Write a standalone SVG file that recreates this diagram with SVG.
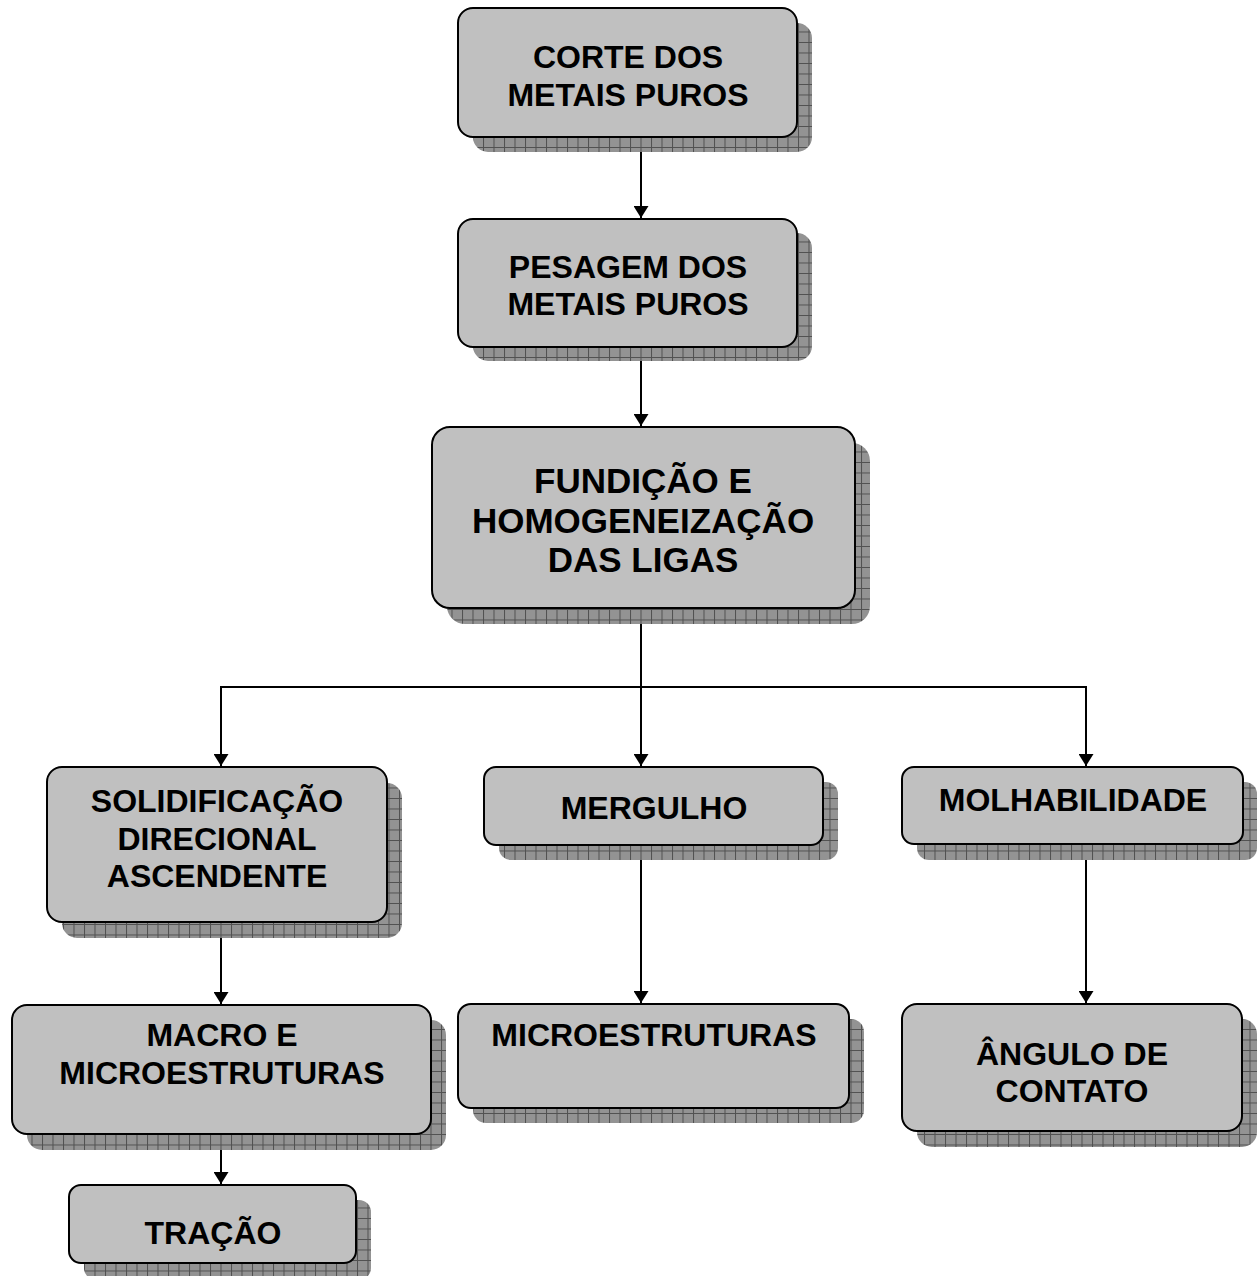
<svg xmlns="http://www.w3.org/2000/svg" width="1257" height="1276" viewBox="0 0 1257 1276">
<defs>
<pattern id="grid" width="10.5" height="10.5" patternUnits="userSpaceOnUse">
<rect width="10.5" height="10.5" fill="#939393"/>
<path d="M0 0.5H10.5M0.5 0V10.5" stroke="#505050" stroke-width="1" fill="none"/>
</pattern>
<marker id="arr" viewBox="0 0 12 15" refX="12" refY="7.5" markerWidth="12" markerHeight="15" markerUnits="userSpaceOnUse" orient="auto">
<path d="M0 0L12 7.5L0 15Z" fill="#000"/>
</marker>
</defs>
<style>
.sh{fill:url(#grid)}
.bx{fill:#c0c0c0;stroke:#000;stroke-width:2}
.t{font-family:"Liberation Sans",Arial,sans-serif;font-weight:bold;font-size:32px;text-anchor:middle;fill:#000}
.big{font-size:35px}
.c{stroke:#000;stroke-width:2;fill:none}
</style>
<g id="connectors">
<path class="c" d="M641 137V218" marker-end="url(#arr)"/>
<path class="c" d="M641 347V426" marker-end="url(#arr)"/>
<path class="c" d="M641 608V766" marker-end="url(#arr)"/>
<path class="c" d="M221 766V687H1086V766" marker-end="url(#arr)"/>
<path class="c" d="M221 687V766" marker-end="url(#arr)"/>
<path class="c" d="M221 922V1004" marker-end="url(#arr)"/>
<path class="c" d="M641 845V1003" marker-end="url(#arr)"/>
<path class="c" d="M1086 844V1003" marker-end="url(#arr)"/>
<path class="c" d="M221 1134V1184" marker-end="url(#arr)"/>
</g>
<g id="n1">
<rect class="sh" x="473" y="23" width="339" height="129" rx="15"/>
<rect class="bx" x="458" y="8" width="339" height="129" rx="15"/>
<text class="t" x="628" y="68">CORTE DOS</text>
<text class="t" x="628" y="106">METAIS PUROS</text>
</g>
<g id="n2">
<rect class="sh" x="473" y="233" width="339" height="128" rx="15"/>
<rect class="bx" x="458" y="219" width="339" height="128" rx="15"/>
<text class="t" x="628" y="278">PESAGEM DOS</text>
<text class="t" x="628" y="315">METAIS PUROS</text>
</g>
<g id="n3">
<rect class="sh" x="447" y="443" width="423" height="181" rx="18"/>
<rect class="bx" x="432" y="427" width="423" height="181" rx="18"/>
<text class="t big" x="643" y="493">FUNDIÇÃO E</text>
<text class="t big" x="643" y="533">HOMOGENEIZAÇÃO</text>
<text class="t big" x="643" y="572">DAS LIGAS</text>
</g>
<g id="n4">
<rect class="sh" x="62" y="783" width="340" height="155" rx="15"/>
<rect class="bx" x="47" y="767" width="340" height="155" rx="15"/>
<text class="t" x="217" y="812">SOLIDIFICAÇÃO</text>
<text class="t" x="217" y="850">DIRECIONAL</text>
<text class="t" x="217" y="887">ASCENDENTE</text>
</g>
<g id="n5">
<rect class="sh" x="499" y="782" width="339" height="78" rx="12"/>
<rect class="bx" x="484" y="767" width="339" height="78" rx="12"/>
<text class="t" x="654" y="819">MERGULHO</text>
</g>
<g id="n6">
<rect class="sh" x="917" y="782" width="340" height="78" rx="12"/>
<rect class="bx" x="902" y="767" width="341" height="77" rx="12"/>
<text class="t" x="1073" y="811">MOLHABILIDADE</text>
</g>
<g id="n7">
<rect class="sh" x="27" y="1020" width="419" height="130" rx="15"/>
<rect class="bx" x="12" y="1005" width="419" height="129" rx="15"/>
<text class="t" x="222" y="1046">MACRO E</text>
<text class="t" x="222" y="1084">MICROESTRUTURAS</text>
</g>
<g id="n8">
<rect class="sh" x="473" y="1019" width="391" height="104" rx="13"/>
<rect class="bx" x="458" y="1004" width="391" height="104" rx="13"/>
<text class="t" x="654" y="1046">MICROESTRUTURAS</text>
</g>
<g id="n9">
<rect class="sh" x="917" y="1019" width="340" height="128" rx="15"/>
<rect class="bx" x="902" y="1004" width="340" height="127" rx="15"/>
<text class="t" x="1072" y="1065">ÂNGULO DE</text>
<text class="t" x="1072" y="1102">CONTATO</text>
</g>
<g id="n10">
<rect class="sh" x="84" y="1200" width="287" height="80" rx="12"/>
<rect class="bx" x="69" y="1185" width="287" height="78" rx="12"/>
<text class="t" x="213" y="1244">TRAÇÃO</text>
</g>
</svg>
